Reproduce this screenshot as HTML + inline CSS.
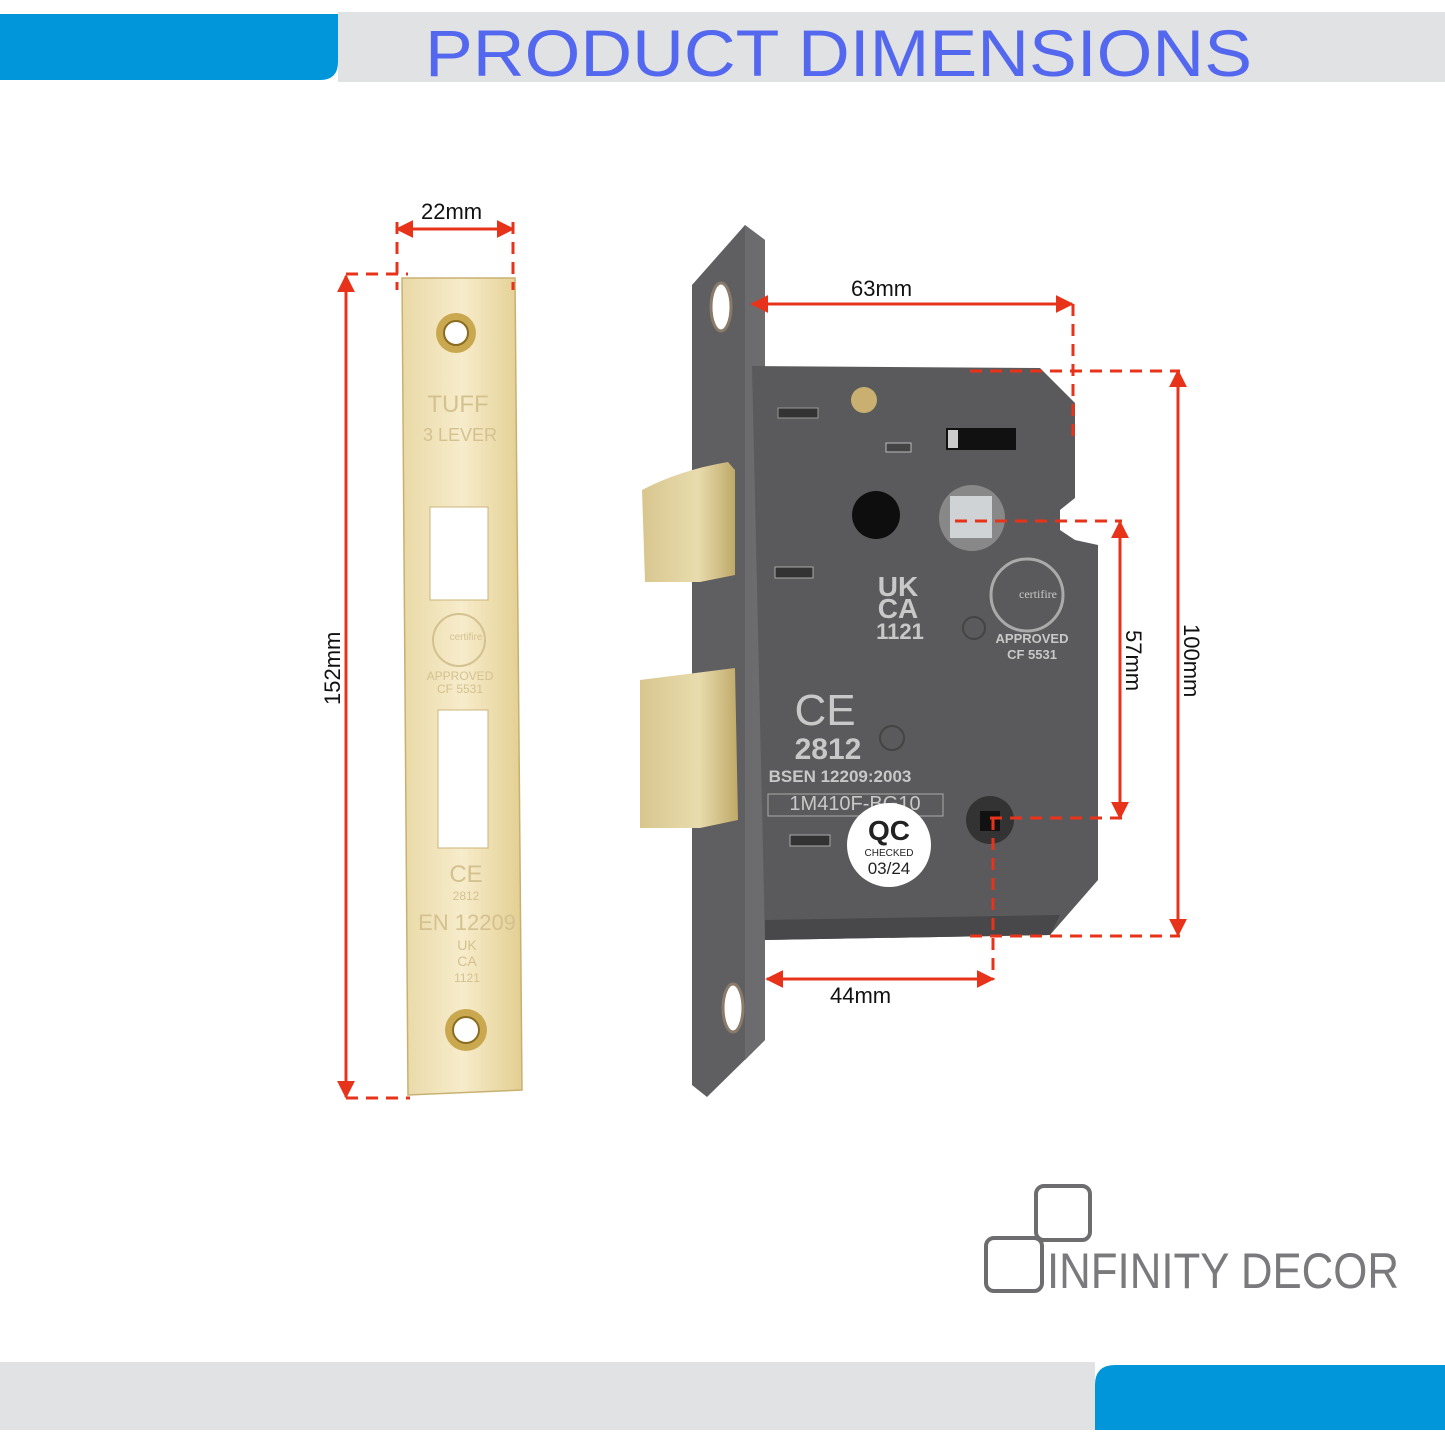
<!DOCTYPE html>
<html><head><style>
html,body{margin:0;padding:0;background:#fff;}
body{width:1445px;height:1445px;position:relative;overflow:hidden;font-family:"Liberation Sans",sans-serif;}
</style></head><body>
<svg width="1445" height="1445" viewBox="0 0 1445 1445" xmlns="http://www.w3.org/2000/svg" style="position:absolute;left:0;top:0">
<defs>
<linearGradient id="gold" x1="0" y1="0" x2="1" y2="0">
<stop offset="0" stop-color="#e9d9a6"/><stop offset="0.5" stop-color="#f7eccb"/><stop offset="1" stop-color="#e3cf92"/>
</linearGradient>
<linearGradient id="brass" x1="0" y1="0" x2="1" y2="0">
<stop offset="0" stop-color="#d8c68e"/><stop offset="0.6" stop-color="#e8dcae"/><stop offset="1" stop-color="#bfa968"/>
</linearGradient>
<marker id="ar" viewBox="0 0 10 10" refX="9" refY="5" markerWidth="6" markerHeight="6" orient="auto-start-reverse"><path d="M0,0 L10,5 L0,10 z" fill="#e8331b"/></marker>
</defs>
<!-- header -->
<rect x="338" y="12" width="1107" height="70" fill="#e1e2e4"/>
<path d="M0,14 H338 V62 Q338,80 320,80 H0 Z" fill="#0096d9"/>
<text x="425" y="76" font-family="Liberation Sans Narrow, Liberation Sans, sans-serif" font-size="66" fill="#5468ef" textLength="827" lengthAdjust="spacingAndGlyphs">PRODUCT  DIMENSIONS</text>
<!-- footer -->
<rect x="0" y="1362" width="1095" height="68" fill="#e1e2e4"/>
<path d="M1095,1430 V1385 Q1095,1365 1115,1365 H1445 V1430 Z" fill="#0096d9"/>
<!-- logo -->
<rect x="1036" y="1186" width="54" height="54" rx="8" fill="none" stroke="#6d6d6f" stroke-width="4"/>
<rect x="986" y="1238" width="56" height="53" rx="8" fill="none" stroke="#6d6d6f" stroke-width="4"/>
<text x="1047" y="1288" font-size="50" fill="#7a7a7c" font-weight="normal" textLength="352" lengthAdjust="spacingAndGlyphs" style="letter-spacing:0">INFINITY DECOR</text>

<!-- strike plate -->
<polygon points="402,278 515,278 522,1090 408,1095" fill="url(#gold)" stroke="#c8b070" stroke-width="1.5"/>
<circle cx="456" cy="333" r="20" fill="#c9a84f"/><circle cx="456" cy="333" r="12" fill="#fff" stroke="#8a6c20" stroke-width="2"/>
<circle cx="466" cy="1030" r="21" fill="#c9a84f"/><circle cx="466" cy="1030" r="13" fill="#fff" stroke="#8a6c20" stroke-width="2"/>
<rect x="430" y="507" width="58" height="93" fill="#fff" stroke="#cbb47a"/>
<rect x="438" y="710" width="50" height="138" fill="#fff" stroke="#cbb47a"/>
<g fill="#d4c190" font-size="18" text-anchor="middle">
<text x="458" y="412" font-size="24">TUFF</text>
<text x="460" y="441">3 LEVER</text>
<text x="460" y="680" font-size="12">APPROVED</text>
<text x="460" y="693" font-size="12">CF 5531</text>
<text x="466" y="882" font-size="24">CE</text>
<text x="466" y="900" font-size="12">2812</text>
<text x="467" y="930" font-size="22">EN 12209</text>
<text x="467" y="950" font-size="14">UK</text>
<text x="467" y="966" font-size="14">CA</text>
<text x="467" y="982" font-size="12">1121</text>
</g>
<circle cx="459" cy="640" r="26" fill="none" stroke="#d4c190" stroke-width="2"/>
<text x="466" y="640" font-size="10" fill="#d4c190" text-anchor="middle">certifire</text>

<!-- lock faceplate -->
<polygon points="692,285 745,225 765,240 765,1040 707,1097 692,1085" fill="#5f5e60"/>
<polygon points="745,225 765,240 765,1040 745,1060" fill="#6c6b6d"/>
<ellipse cx="721" cy="307" rx="10" ry="24" fill="#fff" stroke="#8a7a6a" stroke-width="3"/>
<ellipse cx="733" cy="1008" rx="10" ry="24" fill="#fff" stroke="#8a7a6a" stroke-width="3"/>
<!-- body -->
<polygon points="752,366 1040,368 1075,403 1075,498 1060,510 1060,530 1075,540 1098,545 1098,880 1050,935 765,940" fill="#5a595b"/>
<polygon points="765,920 1060,915 1050,935 765,940" fill="#48474a"/>
<circle cx="864" cy="400" r="13" fill="#c9b070"/>
<rect x="778" y="408" width="40" height="10" fill="#333" stroke="#999"/>
<rect x="886" y="443" width="25" height="9" fill="#444" stroke="#bbb"/>
<rect x="946" y="428" width="70" height="22" fill="#111"/>
<rect x="948" y="430" width="10" height="18" fill="#ccc"/>
<circle cx="876" cy="515" r="24" fill="#0e0e0e"/>
<circle cx="972" cy="518" r="33" fill="#888"/><rect x="950" y="496" width="42" height="42" fill="#d0d3d6"/>
<rect x="775" y="567" width="38" height="11" fill="#333" stroke="#aaa"/>
<rect x="790" y="835" width="40" height="11" fill="#333" stroke="#aaa"/>
<circle cx="974" cy="628" r="11" fill="none" stroke="#444" stroke-width="2"/>
<circle cx="892" cy="738" r="12" fill="none" stroke="#444" stroke-width="2"/>
<circle cx="990" cy="820" r="24" fill="#333"/><rect x="980" y="811" width="20" height="20" fill="#111"/>
<circle cx="1027" cy="595" r="36" fill="none" stroke="#aaa" stroke-width="3"/>
<g fill="#c8c8c8" font-weight="bold" text-anchor="middle">
<text x="1038" y="598" font-size="12" font-family="Liberation Serif,serif" font-weight="normal">certifire</text>
<text x="1032" y="643" font-size="13">APPROVED</text>
<text x="1032" y="659" font-size="13">CF 5531</text>
<text x="898" y="596" font-size="28">UK</text>
<text x="898" y="618" font-size="28">CA</text>
<text x="900" y="639" font-size="22">1121</text>
<text x="825" y="725" font-size="44" font-weight="normal">CE</text>
<text x="828" y="759" font-size="30">2812</text>
<text x="840" y="782" font-size="17">BSEN 12209:2003</text>
<text x="855" y="810" font-size="20" font-weight="normal">1M410F-BG10</text>
</g>
<rect x="768" y="794" width="175" height="22" fill="none" stroke="#aaa"/>
<circle cx="889" cy="845" r="42" fill="#fff"/>
<text x="889" y="840" font-size="28" font-weight="bold" fill="#222" text-anchor="middle">QC</text>
<text x="889" y="856" font-size="10" fill="#222" text-anchor="middle">CHECKED</text>
<text x="889" y="874" font-size="17" fill="#222" text-anchor="middle">03/24</text>
<!-- latches -->
<path d="M642,490 Q680,470 728,462 L735,470 L735,575 L700,582 L645,582 Z" fill="url(#brass)"/>
<polygon points="640,680 735,668 738,820 700,828 640,828" fill="url(#brass)"/>

<!-- dimensions -->
<g stroke="#e8331b" stroke-width="3" fill="none">
<line x1="397" y1="229" x2="513" y2="229" marker-start="url(#ar)" marker-end="url(#ar)"/>
<line x1="346" y1="276" x2="346" y2="1097" marker-start="url(#ar)" marker-end="url(#ar)"/>
<line x1="752" y1="304" x2="1072" y2="304" marker-start="url(#ar)" marker-end="url(#ar)"/>
<line x1="1178" y1="371" x2="1178" y2="935" marker-start="url(#ar)" marker-end="url(#ar)"/>
<line x1="1120" y1="522" x2="1120" y2="818" marker-start="url(#ar)" marker-end="url(#ar)"/>
<line x1="767" y1="979" x2="993" y2="979" marker-start="url(#ar)" marker-end="url(#ar)"/>
</g>
<g stroke="#e8331b" stroke-width="3" fill="none" stroke-dasharray="12,8">
<line x1="397" y1="222" x2="397" y2="290"/>
<line x1="513" y1="222" x2="513" y2="290"/>
<line x1="346" y1="274" x2="408" y2="274"/>
<line x1="346" y1="1098" x2="410" y2="1098"/>
<line x1="1073" y1="304" x2="1073" y2="440"/>
<line x1="970" y1="371" x2="1180" y2="371"/>
<line x1="970" y1="936" x2="1180" y2="936"/>
<line x1="955" y1="521" x2="1122" y2="521"/>
<line x1="990" y1="818" x2="1122" y2="818"/>
<line x1="993" y1="818" x2="993" y2="980"/>
</g>
<g font-size="22" fill="#111">
<text x="421" y="219">22mm</text>
<text x="851" y="296">63mm</text>
<text x="830" y="1003">44mm</text>
<text transform="translate(340,705) rotate(-90)">152mm</text>
<text transform="translate(1126,630) rotate(90)">57mm</text>
<text transform="translate(1184,624) rotate(90)">100mm</text>
</g>
</svg>
</body></html>
